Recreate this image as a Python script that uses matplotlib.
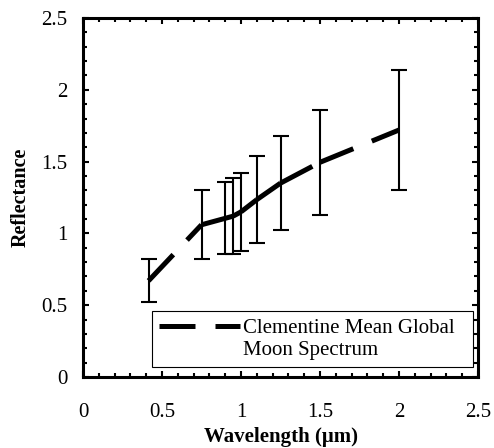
import matplotlib
matplotlib.use("Agg")
import matplotlib.pyplot as plt
from matplotlib.lines import Line2D
from matplotlib.ticker import MultipleLocator

# Clementine band centres (um), mean reflectance and error half-widths
wavelength = [0.415, 0.75, 0.90, 0.95, 1.00, 1.10, 1.25, 1.50, 2.00]
reflectance = [0.67, 1.06, 1.105, 1.12, 1.15, 1.235, 1.35, 1.495, 1.72]
error = [0.15, 0.24, 0.25, 0.265, 0.27, 0.305, 0.325, 0.365, 0.415]

tick_values = [0, 0.5, 1, 1.5, 2, 2.5]
tick_labels = ['0', '0.5', '1', '1.5', '2', '2.5']

plt.rcParams['font.family'] = ['Liberation Serif', 'DejaVu Serif']

LW = 3.6
DASH = (7.2, 4)

fig = plt.figure(figsize=(4.94, 4.48), dpi=100)
ax = fig.add_axes([83 / 494, 1 - 377 / 448, 395 / 494, 359 / 448])

ax.errorbar(wavelength, reflectance, yerr=error, fmt='none',
            ecolor='black', elinewidth=1.5, capsize=5.6, capthick=1.5)

# Excel restarts the dash pattern at every vertex, so draw segment by segment
for i in range(len(wavelength) - 1):
    ax.plot(wavelength[i:i + 2], reflectance[i:i + 2], color='black',
            linewidth=LW, dashes=DASH, dash_capstyle='butt',
            solid_capstyle='butt')

ax.set_xlim(0, 2.5)
ax.set_ylim(0, 2.5)
ax.xaxis.set_minor_locator(MultipleLocator(0.1))
ax.yaxis.set_minor_locator(MultipleLocator(0.1))
ax.set_xticks(tick_values, tick_labels)
ax.set_yticks(tick_values, tick_labels)

for s in ax.spines.values():
    s.set_linewidth(2.2)
ax.tick_params(which='both', direction='in', top=True, right=True,
               width=1.5, labelsize=15)
ax.tick_params(axis='y', pad=11)
ax.tick_params(axis='x', pad=19)
ax.tick_params(which='major', length=4.5)
ax.tick_params(which='minor', length=3)

ax.set_xlabel('Wavelength (\u03bcm)', fontweight='bold', fontsize=15, labelpad=3)
ax.set_ylabel('Reflectance', fontweight='bold', fontsize=14.5, labelpad=8)

# legend: dashed handle on the first line, second line as a blank entry
h1 = Line2D([], [], color='black', linewidth=LW, dashes=DASH,
            dash_capstyle='butt')
h2 = Line2D([], [], color='none')
leg = ax.legend([h1, h2], ['Clementine Mean Global', 'Moon Spectrum'],
                loc='lower left', bbox_to_anchor=(0.174, 0.027, 0.814, 0.17),
                mode='expand', fontsize=15, handlelength=3.9,
                handletextpad=0.12, labelspacing=0.1, borderpad=0.35,
                borderaxespad=0, fancybox=False, framealpha=1,
                edgecolor='black')
leg.get_frame().set_linewidth(0.8)

fig.savefig('out.png', dpi=100)
